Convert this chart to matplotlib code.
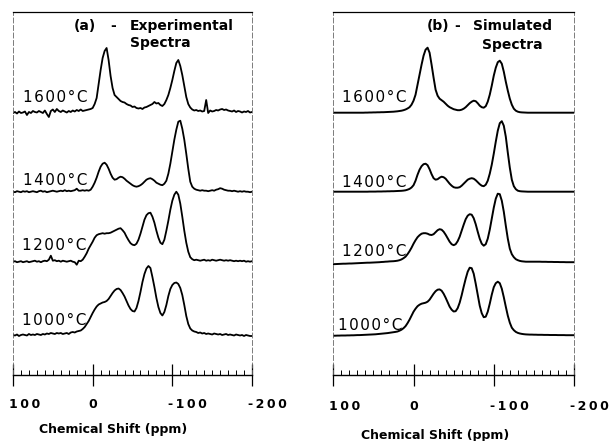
"""
29Si NMR 谱图: (a) 实验谱 与 (b) 模拟谱
"""
import numpy as np
import matplotlib.pyplot as plt
from matplotlib.ticker import MultipleLocator
import matplotlib.transforms as mtransforms

# 化学位移 (ppm), 100 -> -200, 每 2.5 ppm 一点
ppm = np.linspace(100, -200, 121)

temps = ['1600°C', '1400°C', '1200°C', '1000°C']

# (a) 实验谱, 相对各自基线的强度 (任意单位), 每行 10 点
exp_1600 = [
    -1, 0, -1.5, 0.5, -1, -0.5, 0.5, -3, 0, -1,
    1, 0, -0.5, 1, 0, -1, 1.5, -2, -5, 1,
    2.5, 0, 3, 1, 0, 1.5, 0.5, -0.5, 1, 0,
    1.5, 0.5, 2, 1, 2.5, 1, 1.5, 2, 2.5, 3,
    4, 8, 14, 28, 42, 54, 61, 64, 52, 36,
    24, 17, 15, 13, 11, 10, 9.5, 8, 7, 6.5,
    5, 5.5, 4, 3.5, 4, 3, 4.5, 5, 6, 7,
    8, 10, 8.5, 9, 7, 6, 8, 12, 17, 24,
    32, 41, 49, 52, 46, 37, 26, 15, 8, 4.5,
    2.5, 1.5, 2, 1, 1.5, 0.5, 1, 12, -1, 1.5,
    0.5, 1, 2, 1.5, 2.5, 3, 2, 2.5, 1.5, 1,
    0.5, 1.5, 0, 1, 0.5, -0.5, 0.5, 0, 1, -0.5,
    0]
exp_1400 = [
    0, -0.5, 0.5, 0, -0.5, 0.5, 0, 0.5, -0.5, 0,
    0.5, 0, -0.5, 0.5, 1, 0, 0.5, -0.5, 0, 0.5,
    1, 0.5, 0, 0.5, 1, 0.5, 1.5, 0.5, 1, 0.5,
    1, 1.5, 3, 1, 1, 1.5, 1, 1.5, 1, 2,
    5, 9, 14, 20, 25, 28, 29, 27, 23, 18,
    14, 12, 12.5, 14, 15, 14.5, 13, 11, 9.5, 8,
    6.5, 5.5, 5, 5.5, 6.5, 8, 10, 12, 13, 13.5,
    12.5, 11, 9, 8, 7, 6.5, 8, 11, 18, 28,
    40, 52, 62, 70, 71, 63, 52, 38, 23, 10,
    5, 3, 2, 1.5, 1, 1.5, 1, 1, 0.5, 1,
    1.5, 1, 2, 2.5, 3.5, 3, 2, 1.5, 1, 1,
    0.5, 1, 0.5, 0, 0.5, 0, 0.5, 0, 0, -0.5,
    0]
exp_1200 = [
    0, 0.5, -0.5, 0, 0.5, -0.5, 0, 0.5, -0.5, 0,
    0.5, 1, 0, 0.5, -0.5, 0.5, 1, 0.5, 2, 6,
    1, 1.5, 0.5, 1, 0, 1, 0.5, 0, 0.5, 1,
    0, -0.5, -3, 1, 0.5, 2, 5, 8.5, 13, 16.5,
    20, 24, 26.5, 27.5, 28, 28.5, 28, 28.5, 28.5, 29,
    30, 31, 32, 33, 33.5, 31.5, 29, 25, 21.5, 18.5,
    17, 16.5, 18, 22, 28, 35, 42, 46.5, 48.5, 49,
    45, 39, 31, 24, 19, 17.5, 22, 31, 41, 52,
    61, 67, 70, 67, 58, 45, 31, 19, 10, 4.5,
    2.5, 1.5, 2, 1.5, 1, 1.5, 2, 1, 1.5, 1,
    2, 1.5, 1, 1.5, 2, 1.5, 1, 1.5, 1, 1.5,
    1, 0.5, 1, 0.5, 1, 0.5, 1, 0, 0.5, 0,
    0.5]
exp_1000 = [
    0, -0.5, 0.5, -1, 0, 0.5, 0, -0.5, 1, 0,
    0.5, 0, 1, 0.5, 0, 1, 0.5, 1.5, 1, 2,
    1.5, 1, 2, 1.5, 2, 1, 1.5, 2, 1, 2.5,
    3, 2.5, 3.5, 4, 4.5, 6, 8, 11, 14, 18,
    22, 25.5, 28.5, 30.5, 31.5, 32.5, 33, 34, 36, 39,
    42, 44.5, 46, 46.5, 45, 42, 38.5, 34, 29.5, 26,
    24, 23.5, 27, 34, 43, 53, 61, 66.5, 69, 67,
    58, 48, 37, 28, 22, 19.5, 23, 30, 39, 46,
    50, 52, 52.5, 51, 47, 40, 30, 19, 11, 6.5,
    4.5, 3.5, 3, 2, 2.5, 1.5, 2, 1, 1.5, 1,
    0.5, 1.5, 1, 0.5, 1, 0, 0.5, 1, 0, 0.5,
    0, -0.5, 0.5, 0, -0.5, 0, -1, 0, -0.5, -1,
    -1]

# (b) 模拟谱
sim_1600 = [
    0, 0, 0, 0, 0, 0, 0, 0, 0, 0,
    0, 0, 0, 0, 0, 0, 0.1, 0.1, 0.2, 0.2,
    0.3, 0.3, 0.4, 0.4, 0.5, 0.5, 0.6, 0.7, 0.8, 0.9,
    1, 1.2, 1.4, 1.7, 2, 2.5, 3.2, 4.2, 5.5, 8,
    12, 18, 28, 38, 48, 57, 63, 65, 60, 48,
    35, 23, 17, 14, 12.5, 11, 9, 7, 5.5, 4.5,
    3.5, 3, 2.5, 2.5, 3, 4, 5.5, 7.5, 9.5, 11,
    12, 11.5, 9.5, 7, 5.5, 5, 6.5, 11, 18, 27,
    37, 45, 50.5, 52, 49, 41, 31, 22, 14, 8,
    4, 2, 1, 0.5, 0.3, 0.2, 0.1, 0, 0, 0,
    0, 0, 0, 0, 0, 0, 0, 0, 0, 0,
    0, 0, 0, 0, 0, 0, 0, 0, 0, 0,
    0]
sim_1400 = [
    0, 0, 0, 0, 0, 0, 0, 0, 0, 0,
    0, 0, 0, 0, 0, 0, 0, 0, 0.1, 0.1,
    0.1, 0.1, 0.2, 0.2, 0.2, 0.3, 0.3, 0.4, 0.4, 0.5,
    0.5, 0.6, 0.7, 0.8, 0.9, 1.1, 1.4, 2, 2.8, 4.2,
    6.5, 11, 17, 22, 25.5, 27.5, 28, 26.5, 22.5, 17.5,
    13.5, 12, 12.5, 14, 15, 14.5, 13, 10.5, 8, 6,
    4.5, 4, 4, 4.5, 6, 8, 10, 12, 13, 13.5,
    13, 11.5, 9.5, 7.5, 6, 5.5, 7, 11, 18, 27,
    38, 50, 61, 68.5, 70.5, 66, 55, 39, 24, 12,
    5.5, 2.5, 1, 0.5, 0.3, 0.2, 0.1, 0, 0, 0,
    0, 0, 0, 0, 0, 0, 0, 0, 0, 0,
    0, 0, 0, 0, 0, 0, 0, 0, 0, 0,
    0]
sim_1200 = [
    -2.5, -2.4, -2.3, -2.2, -2.1, -2, -2, -1.9, -1.8, -1.8,
    -1.7, -1.6, -1.5, -1.4, -1.3, -1.2, -1.1, -1, -1, -0.9,
    -0.8, -0.7, -0.6, -0.5, -0.3, -0.2, 0, 0.1, 0.3, 0.4,
    0.5, 0.7, 1, 1.5, 2.3, 3.5, 5, 7.5, 10.5, 14,
    18, 21.5, 24.5, 26.5, 28, 28.5, 28.5, 28, 27, 26.7,
    27.5, 29.5, 31.5, 32.5, 32, 30, 27, 23.5, 20, 17.5,
    16.5, 17.5, 20.5, 25, 31, 37, 42.5, 46, 47.5, 47,
    43.5, 37.5, 30, 23, 18, 16, 17.5, 23, 32, 43,
    54, 63, 68, 67.5, 61, 50, 36, 23, 13, 7.5,
    4.5, 2.5, 1.5, 0.8, 0.4, 0.2, 0, 0, 0, 0,
    0, 0, 0, 0, -0.1, -0.1, -0.1, -0.2, -0.2, -0.2,
    -0.3, -0.3, -0.3, -0.4, -0.4, -0.4, -0.5, -0.5, -0.5, -0.5,
    -0.5]
sim_1000 = [
    0, 0, 0.1, 0.1, 0.2, 0.2, 0.2, 0.3, 0.3, 0.4,
    0.4, 0.5, 0.6, 0.6, 0.7, 0.8, 0.9, 1, 1.1, 1.2,
    1.3, 1.4, 1.6, 1.8, 2, 2.2, 2.4, 2.6, 2.9, 3.2,
    3.5, 3.8, 4.2, 5, 6, 7.5, 9.5, 12.5, 16, 20,
    24, 27, 29.5, 31, 32, 32.5, 33, 34, 36, 39,
    42, 44.5, 46, 46.3, 45, 42, 38, 33.5, 29, 26,
    24.2, 24.5, 27.5, 33, 40.5, 49, 57, 64, 68, 67.5,
    62, 52, 41, 30, 22.5, 18.5, 19, 24, 32, 41,
    48.5, 52.5, 54, 52.5, 47, 38.5, 29, 20, 13, 8,
    5.5, 3.8, 2.8, 2.2, 1.8, 1.5, 1.3, 1.2, 1.1, 1.1,
    1, 1, 0.9, 0.9, 0.9, 0.8, 0.8, 0.8, 0.7, 0.7,
    0.7, 0.7, 0.6, 0.6, 0.6, 0.6, 0.5, 0.5, 0.5, 0.5,
    0.5]

exp_spectra = [exp_1600, exp_1400, exp_1200, exp_1000]
sim_spectra = [sim_1600, sim_1400, sim_1200, sim_1000]
for s in exp_spectra + sim_spectra:
    assert len(s) == len(ppm)

# 堆叠偏移 (布局)
exp_offsets = [263, 183.3, 113.3, 40]
sim_offsets = [262.3, 183.3, 113.3, 39.3]

tick_vals = [100, 0, -100, -200]
tick_text = ['100', '0', '-100', '-200']

W, H = 611, 441
fig = plt.figure(figsize=(W / 100, H / 100), dpi=100)


def px_box(x0, x1, y_top, y_bot):
    return [x0 / W, 1 - y_bot / H, (x1 - x0) / W, (y_bot - y_top) / H]


def spaced(s, sp):
    return sp.join(s)


ax_a = fig.add_axes(px_box(13, 252, 12, 375))
ax_b = fig.add_axes(px_box(333.3, 574, 12, 375))


def setup_axis(ax, pad):
    ax.set_xlim(100, -200)
    ax.set_ylim(0, 363)
    ax.set_yticks([])
    ax.set_xticks(tick_vals)
    ax.set_xticklabels([spaced(t, '\u2009') for t in tick_text],
                       fontsize=9, fontweight='bold')
    ax.xaxis.set_minor_locator(MultipleLocator(10))
    ax.tick_params(axis='x', which='major', direction='inout',
                   length=16.5, width=0.9, pad=pad)
    ax.tick_params(axis='x', which='minor', direction='in',
                   length=3.5, width=0.7)
    for side in ['left', 'right']:
        ax.spines[side].set_linestyle((0, (6, 3)))
        ax.spines[side].set_linewidth(0.6)
        ax.spines[side].set_color('0.4')
    ax.spines['top'].set_linewidth(0.9)
    ax.spines['bottom'].set_linewidth(1.0)
    shift = mtransforms.ScaledTranslation(-4 / 100, 0, fig.dpi_scale_trans)
    for lab in ax.get_xticklabels():
        lab.set_horizontalalignment('left')
        lab.set_transform(lab.get_transform() + shift)


setup_axis(ax_a, 8.3)
setup_axis(ax_b, 9.5)

for h, off in zip(exp_spectra, exp_offsets):
    ax_a.plot(ppm, np.array(h) + off, color='black', lw=1.3)
for h, off in zip(sim_spectra, sim_offsets):
    ax_b.plot(ppm, np.array(h) + off, color='black', lw=1.4)

# 温度标签
exp_lab_pos = [(87.8, 10.3), (87.8, 6.7), (89, 11.7), (89, 10)]
sim_lab_pos = [(89.5, 10.7), (89.5, 4.7), (89.5, 5.7), (94, 5.7)]
for t, off, (x, dy) in zip(temps, exp_offsets, exp_lab_pos):
    ax_a.text(x, off + dy, spaced(t, '\u200a'), fontsize=11,
              ha='left', va='baseline')
for t, off, (x, dy) in zip(temps, sim_offsets, sim_lab_pos):
    ax_b.text(x, off + dy, spaced(t, '\u200a'), fontsize=11,
              ha='left', va='baseline')

# 标题
def ftext(x, y, s, **kw):
    fig.text(x / W, 1 - y / H, s, **kw)


title_kw = dict(fontsize=10, fontweight='bold', va='baseline', ha='left')
ftext(74, 30, '(a)', **title_kw)
ftext(110, 30, '-', **title_kw)
ftext(130, 30, 'Experimental', **title_kw)
ftext(130, 47, 'Spectra', **title_kw)
ftext(426.7, 30, '(b)', **title_kw)
ftext(454, 30, '-', **title_kw)
ftext(473.3, 30, 'Simulated', **title_kw)
ftext(481.7, 49, 'Spectra', **title_kw)

# x 轴标题
ftext(113.5, 430, 'Chemical Shift (ppm)', fontsize=9, fontweight='bold',
      ha='center', va='center')
ftext(435, 436, 'Chemical Shift (ppm)', fontsize=9, fontweight='bold',
      ha='center', va='center')

plt.savefig('out.png', dpi=100)
